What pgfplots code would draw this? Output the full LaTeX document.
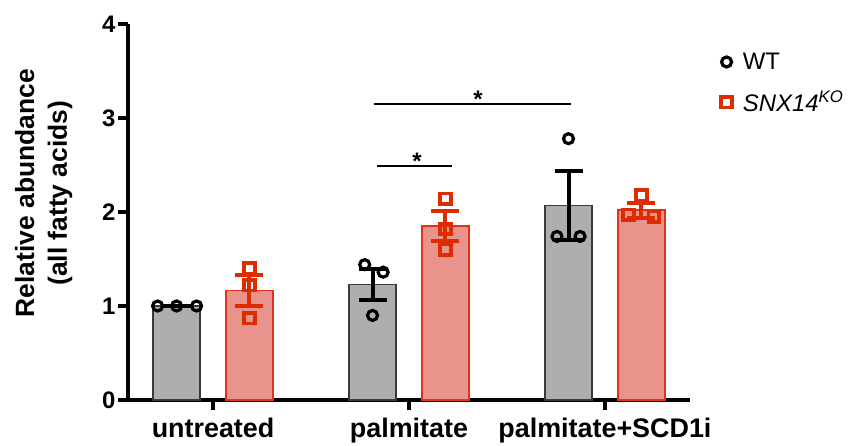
\documentclass[border=0pt]{standalone}
\usepackage{pgfplots}
\pgfplotsset{compat=1.18}
\usepackage{fontspec}
\setmainfont{Liberation Sans}
\definecolor{wtfill}{HTML}{AEAEAE}
\definecolor{wtedge}{HTML}{3A3A3A}
\definecolor{kofill}{HTML}{E8948C}
\definecolor{koedge}{HTML}{E0321E}
\definecolor{kored}{HTML}{DD2C00}
\begin{document}
\begin{tikzpicture}
\begin{axis}[
  scale only axis, width=562bp, height=376bp,
  xmin=-0.434, xmax=2.434, ymin=0, ymax=4,
  axis x line=bottom, axis y line=left,
  axis line style={-, line width=4bp, black},
  xtick={0,1,2}, xticklabels={untreated,palmitate,palmitate+SCD1i},
  ytick={0,1,2,3,4},
  tick style={line width=3.5bp, black},
  tick align=outside, major tick length=10bp,
  xticklabel style={font=\fontsize{27}{30}\selectfont\bfseries, yshift=-4bp},
  yticklabel style={font=\fontsize{24}{28}\selectfont\bfseries, xshift=1bp},
  /pgf/number format/assume math mode=true,
  ylabel={Relative abundance\\(all fatty acids)},
  every axis y label/.style={at={(axis description cs:-0.150,0.55)}, rotate=90, anchor=center, align=center, font=\fontsize{26.5}{33}\selectfont\bfseries},
  legend style={draw=none, fill=none, at={(axis description cs:1.05,0.934)}, anchor=north west, font=\fontsize{24}{28}\selectfont, row sep=16bp, legend cell align=left,
    /tikz/every odd column/.append style={column sep=9bp}},
  clip=false,
]
% bars
\addplot[ybar, bar width=47bp, bar shift=-36.5bp, fill=wtfill, draw=wtedge, line width=1.5bp, forget plot]
  coordinates {(0,1.0) (1,1.23) (2,2.07)};
\addplot[ybar, bar width=47bp, bar shift=36.5bp, fill=kofill, draw=koedge, line width=1.5bp, forget plot]
  coordinates {(0,1.165) (1,1.85) (2,2.02)};
% error bars
\addplot[draw=none, mark=none, forget plot,
  error bars/.cd, y dir=both, y explicit, error mark=|,
  error bar style={line width=4bp, black},
  error mark options={line width=4bp, black, mark size=14bp}]
  coordinates {(-0.186,1.0) +- (0,0.0) (0.814,1.23) +- (0,0.165) (1.814,2.07) +- (0,0.37)};
\addplot[draw=none, mark=none, forget plot,
  error bars/.cd, y dir=both, y explicit, error mark=|,
  error bar style={line width=4bp, kored},
  error mark options={line width=4bp, kored, mark size=14bp}]
  coordinates {(0.186,1.165) +- (0,0.17) (1.186,1.85) +- (0,0.16) (2.186,2.02) +- (0,0.08)};
% points
\addplot[only marks, mark=o, mark size=5bp, line width=3.2bp, black]
  coordinates {(-0.283,1.0) (-0.186,1.0) (-0.084,1.0)
               (0.774,1.44) (0.868,1.36) (0.814,0.90)
               (1.814,2.78) (1.755,1.74) (1.873,1.74)};
\addlegendentry{WT}
\addplot[only marks, mark=square, mark size=5.3bp, line width=3.6bp, kored]
  coordinates {(0.186,1.40) (0.186,1.22) (0.186,0.87)
               (1.186,2.14) (1.186,1.82) (1.186,1.60)
               (2.186,2.18) (2.12,1.97) (2.25,1.95)};
\addlegendentry{\textit{SNX14\textsuperscript{KO}}}
% significance
\draw[line width=2.2bp] (axis cs:0.821,3.15) -- (axis cs:1.827,3.15);
\node[font=\fontsize{24}{24}\selectfont\bfseries, inner sep=0, yshift=-5bp] at (axis cs:1.352,3.255) {*};
\draw[line width=2.2bp] (axis cs:0.837,2.489) -- (axis cs:1.219,2.489);
\node[font=\fontsize{24}{24}\selectfont\bfseries, inner sep=0, yshift=-5bp] at (axis cs:1.041,2.596) {*};
\end{axis}
\pgfresetboundingbox
\path (-128bp,-46bp) rectangle (738bp,400bp);
\end{tikzpicture}
\end{document}
